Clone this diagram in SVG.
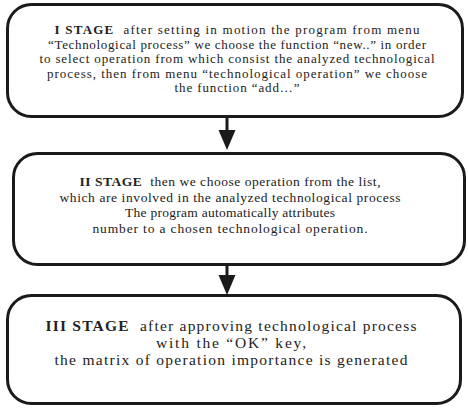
<svg xmlns="http://www.w3.org/2000/svg" width="468" height="408" viewBox="0 0 468 408">
<defs>
<style>
.box{fill:#fff;stroke:#1a1a1a;stroke-width:3}
.t{font-family:"Liberation Serif","Times New Roman",serif;fill:#222;text-anchor:middle}
.s1{font-size:13px}
.s2{font-size:13.5px}
.s3{font-size:15.5px}
.b{font-weight:bold}
.con{stroke:#1a1a1a;stroke-width:3;fill:none}
</style>
</defs>
<rect width="468" height="408" fill="#fff"/>
<g id="connectors">
<line class="con" x1="227" y1="117" x2="227" y2="130"/>
<path d="M218.5,130 L235.5,130 L227,150 Z" fill="#1a1a1a"/>
<line class="con" x1="227" y1="265" x2="227" y2="275"/>
<path d="M218.5,275 L235.5,275 L227,295 Z" fill="#1a1a1a"/>
</g>
<g id="stage1">
<rect class="box" x="7.5" y="4.5" width="455" height="112" rx="24" ry="24"/>
<text class="t s1" x="237" y="34" textLength="365" lengthAdjust="spacing" xml:space="preserve"><tspan class="b">I STAGE</tspan>  after setting in motion the program from menu</text>
<text class="t s1" x="237" y="48.5" textLength="378" lengthAdjust="spacing">“Technological process” we choose the function “new..” in order</text>
<text class="t s1" x="237" y="63" textLength="395" lengthAdjust="spacing">to select operation from which consist the analyzed technological</text>
<text class="t s1" x="237" y="77.5" textLength="380" lengthAdjust="spacing">process, then from menu “technological operation” we choose</text>
<text class="t s1" x="237" y="92" textLength="125" lengthAdjust="spacing">the function “add…”</text>
</g>
<g id="stage2">
<rect class="box" x="13.5" y="153.5" width="451" height="111" rx="24" ry="24"/>
<text class="t s2" x="230" y="186" textLength="301" lengthAdjust="spacing" xml:space="preserve"><tspan class="b">II STAGE</tspan>  then we choose operation from the list,</text>
<text class="t s2" x="230" y="201.5" textLength="341" lengthAdjust="spacing">which are involved in the analyzed technological process</text>
<text class="t s2" x="230" y="217" textLength="210" lengthAdjust="spacing">The program automatically attributes</text>
<text class="t s2" x="230" y="232.5" textLength="275" lengthAdjust="spacing">number to a chosen technological operation.</text>
</g>
<g id="stage3">
<rect class="box" x="7.5" y="295.5" width="453" height="108" rx="24" ry="24"/>
<text class="t s3" x="231" y="331" textLength="371" lengthAdjust="spacing" xml:space="preserve"><tspan class="b">III STAGE</tspan>  after approving technological process</text>
<text class="t s3" x="231" y="348" textLength="150" lengthAdjust="spacing">with the “OK” key,</text>
<text class="t s3" x="231" y="365" textLength="353" lengthAdjust="spacing">the matrix of operation importance is generated</text>
</g>
</svg>
